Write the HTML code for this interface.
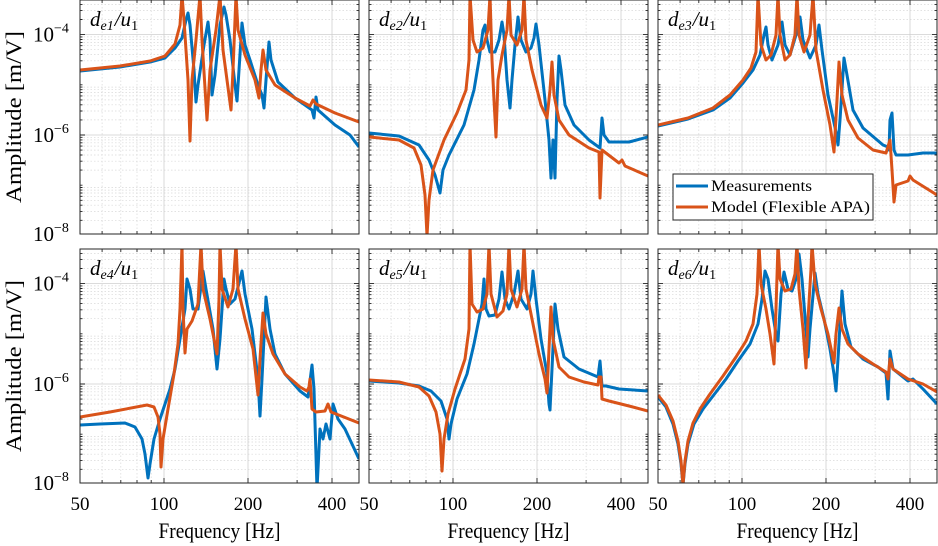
<!DOCTYPE html>
<html><head><meta charset="utf-8"><style>
html,body{margin:0;padding:0;background:#fff;}
svg{display:block;}
text{font-family:"Liberation Serif","DejaVu Serif",serif;fill:#000;}
</style></head><body>
<svg id="s" width="938" height="546" viewBox="0 0 938 546" xmlns="http://www.w3.org/2000/svg"></svg>
<script>
var S=document.getElementById('s');var NS='http://www.w3.org/2000/svg';
function el(t,a,p){var e=document.createElementNS(NS,t);for(var k in a)e.setAttribute(k,a[k]);(p||S).appendChild(e);return e;}
var W=279,H=234;
var P=[[80,0],[369,0],[658,0],[80,249],[369,249],[658,249]];
function xf(f){return 84*Math.log2(f/50);}
function yv(d){return 135-50.2*(d+6);}
var D={
0:{o:[[0,70],[40,66],[70,61],[85,56],[95,44],[100,25],[102,-5],[104,20],[108,80],[110,141],[112,80],[116,40],[120,-5],[122,40],[127,120],[130,70],[136,30],[140,-5],[143,50],[151,110],[153,70],[156,-5],[158,30],[165,55],[175,80],[179,98],[181,70],[183,50],[186,70],[195,85],[215,98],[230,106],[233,100],[236,104],[255,113],[279,122]],
b:[[0,71],[40,67],[70,62],[85,58],[95,48],[102,38],[106,20],[108,13],[110,25],[114,70],[116,102],[118,85],[124,45],[128,22],[130,40],[132,95],[135,75],[140,25],[144,7],[146,15],[150,40],[155,85],[157,101],[159,70],[162,23],[165,45],[170,60],[178,85],[182,95],[184,108],[186,80],[189,42],[191,60],[198,82],[215,98],[232,110],[234,118],[236,97],[238,110],[255,125],[270,135],[279,147]]},
1:{o:[[0,137],[30,140],[45,148],[52,165],[56,195],[58,236],[60,200],[64,170],[75,140],[88,113],[97,90],[100,60],[101,-5],[104,40],[108,52],[114,48],[119,30],[121,-5],[123,60],[125,100],[127,137],[129,80],[133,55],[138,30],[140,-5],[142,35],[148,45],[153,30],[155,-5],[157,40],[163,70],[172,105],[178,118],[181,90],[183,62],[185,95],[190,120],[200,135],[220,148],[230,152],[231,198],[233,150],[250,163],[253,160],[256,166],[279,176]],
b:[[0,133],[30,136],[50,145],[60,160],[66,175],[71,193],[74,170],[80,155],[95,125],[105,90],[110,60],[114,30],[116,25],[118,40],[121,52],[126,52],[130,40],[133,22],[135,35],[138,80],[141,108],[143,80],[146,45],[149,17],[152,40],[157,52],[162,48],[165,38],[167,24],[170,45],[176,100],[180,140],[182,178],[184,140],[186,178],[188,100],[190,56],[192,70],[196,105],[205,125],[220,140],[231,148],[233,118],[235,135],[240,142],[260,142],[279,137]]},
2:{o:[[0,125],[30,118],[55,108],[72,95],[85,80],[93,68],[98,52],[100,-5],[103,45],[108,60],[113,55],[118,35],[120,-5],[122,35],[127,60],[132,55],[137,35],[139,-5],[141,35],[146,52],[152,35],[155,-5],[158,50],[165,90],[172,125],[176,152],[179,100],[181,62],[184,95],[190,120],[200,138],[215,150],[228,153],[232,140],[234,170],[236,202],[238,185],[250,181],[252,176],[255,180],[279,195]],
b:[[0,126],[30,119],[55,110],[72,98],[85,83],[95,70],[102,55],[106,35],[108,27],[110,45],[114,60],[120,45],[124,22],[127,45],[132,55],[138,35],[142,17],[145,40],[152,58],[158,45],[161,25],[164,50],[170,95],[178,132],[180,145],[182,120],[186,58],[189,75],[195,110],[205,128],[225,145],[230,147],[231,150],[232,120],[234,113],[236,150],[238,155],[250,155],[265,153],[279,153]]},
3:{o:[[0,168],[30,163],[67,156],[74,158],[78,168],[80,185],[81,218],[83,190],[88,160],[94,125],[98,95],[100,60],[102,-5],[103,60],[105,104],[107,80],[112,72],[118,55],[121,-5],[123,40],[130,70],[135,95],[137,105],[139,50],[140,-5],[142,40],[148,58],[153,40],[156,-5],[158,40],[165,70],[173,100],[178,146],[180,110],[183,64],[186,85],[193,105],[205,125],[220,138],[227,142],[229,138],[230,130],[232,160],[236,163],[245,162],[248,155],[251,163],[279,174]],
b:[[0,176],[20,175],[45,174],[55,178],[62,190],[65,205],[68,229],[70,215],[74,190],[80,170],[90,140],[95,120],[100,90],[105,60],[107,30],[110,40],[113,60],[118,60],[123,22],[126,40],[133,80],[137,120],[140,90],[144,30],[146,40],[150,55],[155,50],[162,22],[165,45],[172,80],[178,130],[180,167],[182,130],[186,48],[190,80],[195,105],[205,125],[220,142],[228,148],[232,116],[234,140],[237,240],[240,180],[243,190],[246,175],[250,190],[253,155],[258,170],[265,180],[272,195],[279,210]]},
4:{o:[[0,131],[30,133],[50,138],[60,147],[67,163],[71,185],[73,222],[75,190],[79,165],[86,140],[96,110],[100,80],[101,-5],[103,55],[108,63],[114,60],[118,45],[120,-5],[122,45],[128,68],[134,62],[138,45],[140,-5],[142,40],[148,58],[153,40],[155,-5],[157,40],[163,70],[170,105],[176,130],[178,144],[180,100],[182,58],[184,90],[190,118],[200,128],[215,133],[229,136],[230,128],[232,128],[233,150],[240,152],[260,157],[279,162]],
b:[[0,132],[30,134],[50,137],[62,142],[72,152],[78,170],[80,190],[82,175],[88,150],[98,125],[105,95],[110,70],[113,55],[115,30],[117,60],[120,67],[126,66],[130,50],[133,23],[136,50],[140,60],[145,45],[149,22],[152,50],[158,60],[162,45],[164,22],[167,50],[172,90],[178,125],[180,155],[181,161],[183,120],[186,55],[189,80],[195,108],[210,120],[229,128],[231,112],[233,137],[237,137],[250,140],[265,141],[279,142]]},
5:{o:[[0,146],[8,156],[15,172],[20,192],[23,212],[25,236],[27,212],[30,192],[35,174],[42,160],[52,145],[65,127],[78,108],[88,92],[95,75],[99,45],[101,-5],[103,35],[108,60],[112,85],[116,115],[118,60],[120,-5],[122,30],[127,42],[133,40],[137,25],[139,-5],[141,40],[145,80],[148,119],[150,70],[153,20],[154,-5],[157,35],[163,60],[170,85],[176,114],[178,85],[181,59],[184,80],[190,95],[200,105],[215,115],[228,123],[230,130],[232,110],[235,120],[250,130],[265,135],[279,143]],
b:[[0,148],[8,158],[15,175],[20,195],[23,215],[25,236],[27,215],[30,195],[36,175],[45,160],[55,147],[68,130],[80,112],[92,95],[100,75],[104,50],[107,22],[110,30],[114,60],[118,85],[120,92],[123,45],[126,23],[130,40],[134,42],[138,30],[141,5],[144,30],[148,80],[150,108],[152,80],[157,24],[160,45],[166,70],[172,100],[176,125],[178,142],[180,110],[184,42],[187,75],[193,98],[205,110],[220,118],[228,124],[230,150],[232,102],[235,120],[250,132],[255,130],[265,140],[279,155]]}
};
var defs=el('defs',{});
var cp=el('clipPath',{id:'c'},defs);el('rect',{x:0,y:0,width:W,height:H},cp);
var subs=['e1','e2','e3','e4','e5','e6'];
P.forEach(function(p,i){
  var g=el('g',{transform:'translate('+p[0]+','+p[1]+')'});
  var d='';
  for(var e=-9;e<=-3;e++)for(var m=2;m<=9;m++){var y=yv(e+Math.log10(m));if(y>0&&y<H)d+='M0 '+y.toFixed(1)+'H'+W;}
  [60,70,80,90,300].forEach(function(f){var x=xf(f);d+='M'+x.toFixed(1)+' 0V'+H;});
  el('path',{d:d,stroke:'#d8d8d8','stroke-width':0.7,'stroke-dasharray':'1.5,2',fill:'none'},g);
  var M='';[-4,-6].forEach(function(e){M+='M0 '+yv(e)+'H'+W;});[100,200,400].forEach(function(f){M+='M'+xf(f)+' 0V'+H;});
  el('path',{d:M,stroke:'#cfcfcf','stroke-width':0.8,fill:'none'},g);
  var t='';
  for(var e=-9;e<=-3;e++)for(var m=1;m<=9;m++){var y=yv(e+Math.log10(m));if(y>0&&y<H){var L=(m==1&&e%2==0)?5:2.5;t+='M0 '+y.toFixed(1)+'h'+L+'M'+W+' '+y.toFixed(1)+'h-'+L;}}
  [60,70,80,90,300].forEach(function(f){var x=xf(f);t+='M'+x.toFixed(1)+' 0v3M'+x.toFixed(1)+' '+H+'v-3';});
  [100,200,400].forEach(function(f){var x=xf(f);t+='M'+x.toFixed(1)+' 0v5M'+x.toFixed(1)+' '+H+'v-5';});
  el('path',{d:t,stroke:'#222','stroke-width':0.9,fill:'none'},g);
  var cg=el('g',{'clip-path':'url(#c)'},g);
  ['b','o'].forEach(function(k){
    var pts=D[i][k].map(function(q){return q[0]+','+q[1];}).join(' ');
    el('polyline',{points:pts,fill:'none',stroke:k=='b'?'#0072BD':'#D95319','stroke-width':3,'stroke-linejoin':'round'},cg);
  });
  el('rect',{x:0,y:0,width:W,height:H,fill:'none',stroke:'#262626','stroke-width':1},g);
  var tx=el('text',{x:10,y:26,'font-size':21,'font-style':'italic'},g);
  tx.innerHTML='d<tspan font-size="14" dy="4">'+subs[i]+'</tspan><tspan dy="-4" dx="1">/u</tspan><tspan font-size="14" dy="4" font-style="normal">1</tspan>';
  if(i%3==0){
    [[-4,yv(-4)],[-6,yv(-6)],[-8,H]].forEach(function(a){
      var tt=el('text',{x:-47,y:a[1]+7,'font-size':21},g);
      tt.innerHTML='10<tspan font-size="14" dy="-9">−'+(-a[0])+'</tspan>';
    });
    var yl=el('text',{x:0,y:0,'font-size':22,'text-anchor':'middle',textLength:172,lengthAdjust:'spacingAndGlyphs',transform:'translate(-59,'+(H/2)+') rotate(-90)'},g);
    yl.textContent='Amplitude [m/V]';
  }
  if(i>=3){
    [50,100,200,400].forEach(function(f){var tt=el('text',{x:xf(f),y:H+27,'font-size':19,'text-anchor':'middle'},g);tt.textContent=f;});
    var xl=el('text',{x:W/2,y:H+55,'font-size':22,'text-anchor':'middle',textLength:122,lengthAdjust:'spacingAndGlyphs'},g);xl.textContent='Frequency [Hz]';
  }
});
var lg=el('g',{});
el('rect',{x:673,y:174,width:200,height:46,fill:'#fff',stroke:'#262626','stroke-width':1},lg);
el('line',{x1:676,y1:186,x2:708,y2:186,stroke:'#0072BD','stroke-width':3},lg);
el('line',{x1:676,y1:207,x2:708,y2:207,stroke:'#D95319','stroke-width':3},lg);
var a=el('text',{x:711,y:191,'font-size':16,textLength:101,lengthAdjust:'spacingAndGlyphs'},lg);a.textContent='Measurements';
var b=el('text',{x:711,y:212,'font-size':16,textLength:159,lengthAdjust:'spacingAndGlyphs'},lg);b.textContent='Model (Flexible APA)';
</script>
</body></html>
